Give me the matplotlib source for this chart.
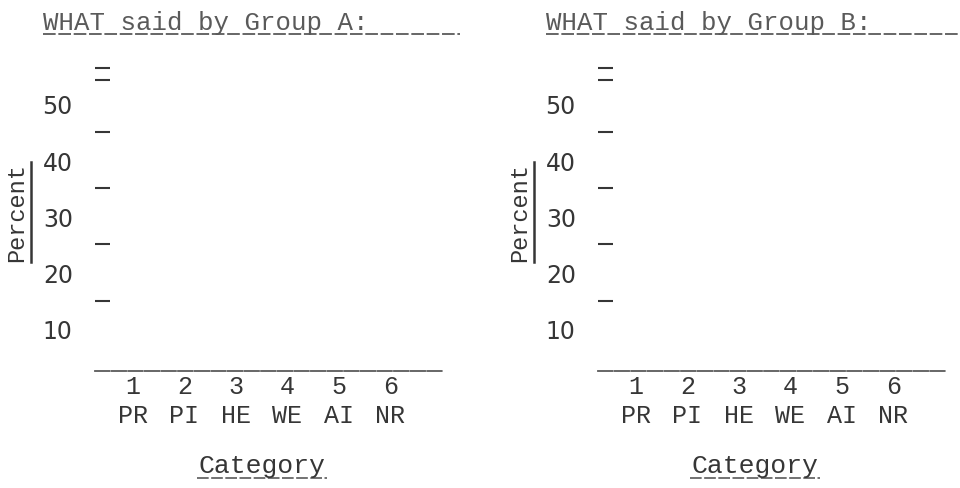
import matplotlib.pyplot as plt
from matplotlib.lines import Line2D

# blank typewritten response forms, one per group
group_titles = ["WHAT said by Group A:", "WHAT said by Group B:"]
categories = [1, 2, 3, 4, 5, 6]
category_codes = ["PR", "PI", "HE", "WE", "AI", "NR"]
percent_labels = [10, 20, 30, 40, 50]
percent_marks = [15, 25, 35, 45, 54.3, 56.3]

W, H = 960, 489
MONO = "Liberation Mono"
INK = "#363636"
PALE = "#5a5a5a"


def fx(px):
    return px / W


def fy(py):
    return 1 - py / H


def hline(fig, x0, x1, y, lw=1.3, color=PALE):
    fig.add_artist(Line2D([fx(x0), fx(x1)], [fy(y), fy(y)], transform=fig.transFigure,
                          color=color, lw=lw, linestyle=(0, (7, 1.5))))


def vline(fig, x, y0, y1, lw=1.8, color=INK):
    fig.add_artist(Line2D([fx(x), fx(x)], [fy(y0), fy(y1)], transform=fig.transFigure,
                          color=color, lw=lw))


fig = plt.figure(figsize=(9.6, 4.89), dpi=100)
fig.patch.set_facecolor("white")

for i, title in enumerate(group_titles):
    dx = 503 * i
    ax = fig.add_axes([fx(95 + dx), fy(372), fx(443 - 95), (372 - 48.6) / H])
    ax.set_xlim(0.262, 7.02)
    ax.set_ylim(2.5, 60)
    for s in ["left", "right", "top"]:
        ax.spines[s].set_visible(False)
    ax.spines["bottom"].set_color(PALE)
    ax.spines["bottom"].set_linewidth(1.3)
    ax.spines["bottom"].set_linestyle((0, (8, 1.2)))

    ax.set_xticks(categories, [f"{c}\n{code}" for c, code in zip(categories, category_codes)])
    ax.tick_params(axis="x", length=0, pad=2, labelsize=18, labelcolor=INK)
    for lab in ax.get_xticklabels():
        lab.set_fontfamily(MONO)
        lab.set_linespacing(1.25)

    ax.set_yticks(percent_labels)
    ax.set_yticks(percent_marks, minor=True)
    ax.tick_params(axis="y", which="major", length=0, pad=16, labelsize=17, labelcolor=INK)
    ax.tick_params(axis="y", which="minor", direction="in", length=11, width=1.5, color=INK)
    for lab in ax.get_yticklabels():
        lab.set_fontfamily("DejaVu Sans")

    # title with typed underline
    fig.text(fx(43 + dx), fy(30), title, family=MONO, fontsize=18.5, color=PALE,
             ha="left", va="baseline")
    hline(fig, 43 + dx, 460 + dx if i == 0 else 960, 35)

    # Percent, underlined sideways
    fig.text(fx(17 + dx), fy(213), "Percent", family=MONO, fontsize=17, color=INK,
             rotation=90, ha="center", va="center")
    vline(fig, 31 + dx, 163, 263)

    # Category, underlined
    cx = 262 + dx if i == 0 else 755
    fig.text(fx(cx), fy(466), "Category", family=MONO, fontsize=19, color=INK,
             ha="center", va="center")
    hline(fig, cx - 65, cx + 65, 479, lw=1.2)

fig.savefig("out.png", dpi=100, facecolor="white")
